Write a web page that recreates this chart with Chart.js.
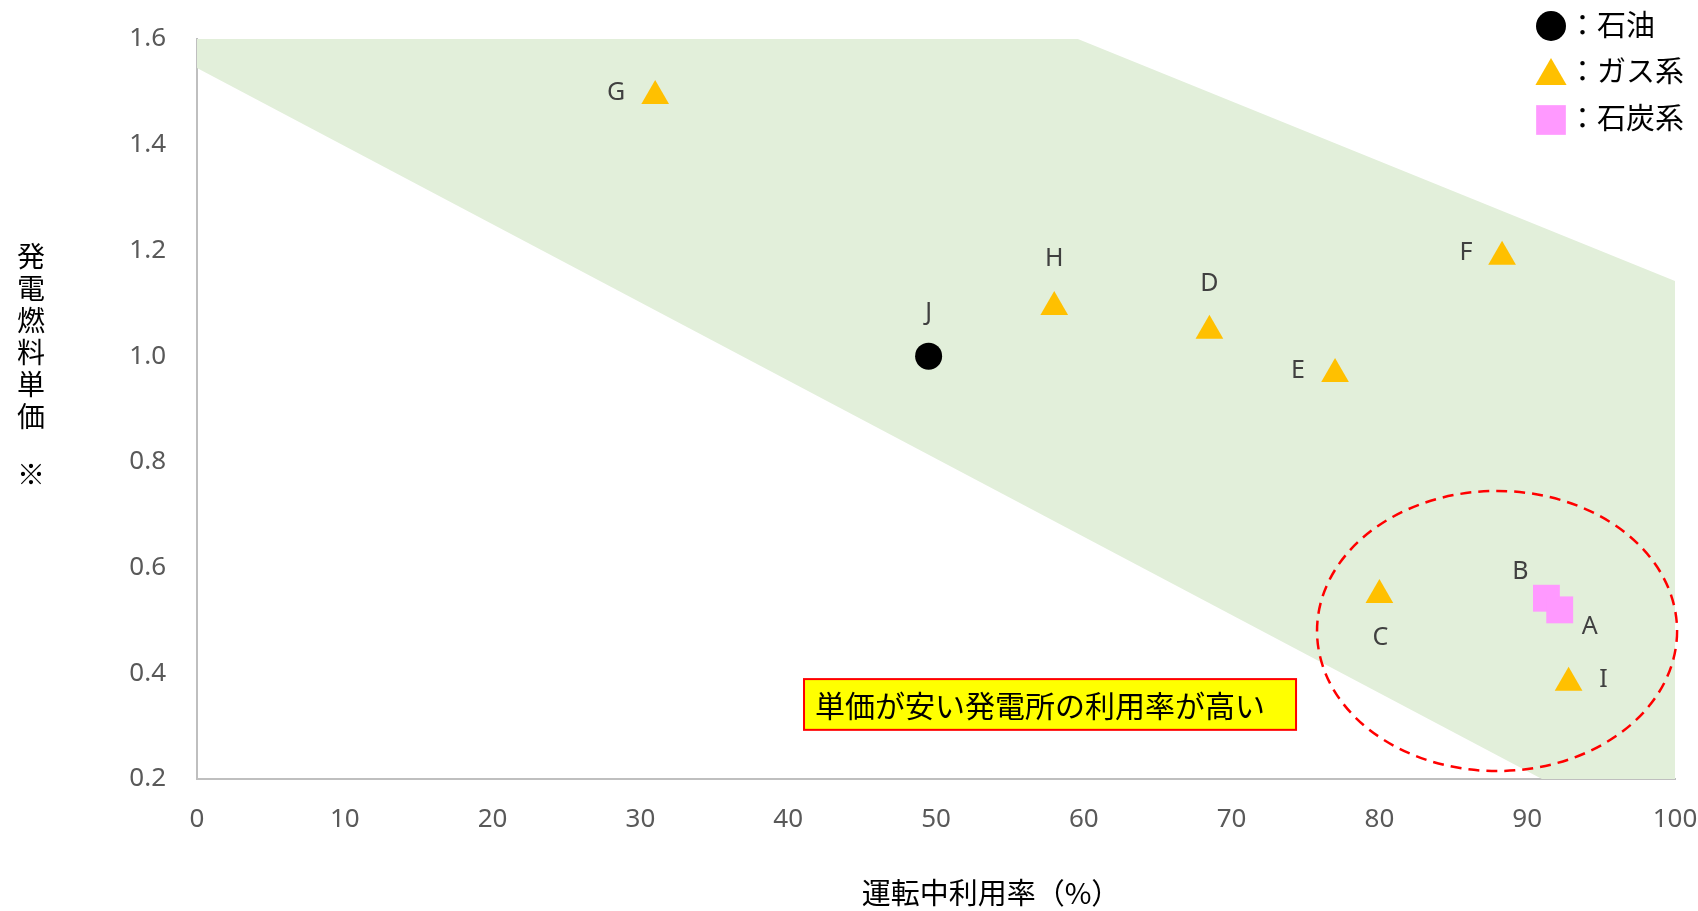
<!DOCTYPE html>
<html>
<head>
<meta charset="utf-8">
<script src="https://cdn.jsdelivr.net/npm/chart.js@4.4.0/dist/chart.umd.min.js"></script>
<style>
  html, body { margin: 0; padding: 0; background: #fff; }
</style>
</head>
<body>
<canvas id="chart" width="1698" height="911"></canvas>
<script>
// series data (x: 運転中利用率 %, y: 発電燃料単価)
const oilNames = ['J'];
const oilX = [49.5];
const oilY = [1.0];

const gasNames = ['C', 'D', 'E', 'F', 'G', 'H', 'I'];
const gasX = [80, 68.5, 77, 88.3, 31, 58, 92.8];
const gasY = [0.548, 1.048, 0.966, 1.188, 1.492, 1.093, 0.382];

const coalNames = ['B', 'A'];
const coalX = [91.3, 92.2];
const coalY = [0.542, 0.52];

// shaded band boundaries
const bandUpperX = [0, 59.6, 100];
const bandUpperY = [1.6, 1.6, 1.142];
const bandLowerX = [0, 91, 100];
const bandLowerY = [1.545, 0.2, 0.2];

const xTicks = [0, 100, 10];
const yTicks = [0.2, 1.6, 0.2];

const legendLabels = ['：石油', '：ガス系', '：石炭系'];
const xTitle = '運転中利用率（%）';
const yTitle = ['発', '電', '燃', '料', '単', '価'];
const noteText = '単価が安い発電所の利用率が高い';

// where each letter sits relative to its marker
const labelOffset = {
  A: [30, 17], B: [-26, -26], C: [1, 43], D: [0, -47], E: [-37, -3],
  F: [-36, -4], G: [-39, -3], H: [0, -48], I: [35, -3], J: [0, -43]
};

const toPts = (xs, ys) => xs.map((v, i) => ({ x: v, y: ys[i] }));

const CJK = '"Noto Sans CJK JP", "Noto Sans", sans-serif';
const LAT = '"Noto Sans", "Open Sans", sans-serif';

const overlay = {
  id: 'overlay',
  afterDatasetsDraw(chart) {
    const { ctx, scales: { x, y } } = chart;
    ctx.save();

    // dashed ellipse round the cheap plants
    const cx = x.getPixelForValue(87.96), cy = y.getPixelForValue(0.48);
    const rx = x.getPixelForValue(87.96 + 12.18) - cx;
    const ry = cy - y.getPixelForValue(0.48 + 0.265);
    ctx.beginPath();
    ctx.setLineDash([11, 7]);
    ctx.strokeStyle = '#FF0000';
    ctx.lineWidth = 2.5;
    ctx.ellipse(cx, cy, rx, ry, 0, 0, Math.PI * 2);
    ctx.stroke();
    ctx.setLineDash([]);

    // note box
    const bx0 = x.getPixelForValue(41.07), bx1 = x.getPixelForValue(74.36);
    const by0 = y.getPixelForValue(0.389), by1 = y.getPixelForValue(0.293);
    ctx.fillStyle = '#FFFF00';
    ctx.fillRect(bx0, by0, bx1 - bx0, by1 - by0);
    ctx.strokeStyle = '#FF0000';
    ctx.lineWidth = 2;
    ctx.strokeRect(bx0, by0, bx1 - bx0, by1 - by0);
    ctx.fillStyle = '#000';
    ctx.font = '30px ' + CJK;
    ctx.textAlign = 'left';
    ctx.textBaseline = 'middle';
    ctx.fillText(noteText, bx0 + 11, (by0 + by1) / 2 + 1);

    // letters next to the markers
    ctx.font = '25px ' + LAT;
    ctx.fillStyle = '#404040';
    ctx.textAlign = 'center';
    chart.data.datasets.forEach((ds, di) => {
      if (!ds.names) return;
      const meta = chart.getDatasetMeta(di);
      meta.data.forEach((pt, i) => {
        const name = ds.names[i];
        const off = labelOffset[name];
        ctx.fillText(name, pt.x + off[0], pt.y + off[1]);
      });
    });
    ctx.restore();
  },
  afterDraw(chart) {
    const { ctx } = chart;
    ctx.save();
    ctx.fillStyle = '#000';
    ctx.textBaseline = 'middle';

    // axis titles
    ctx.font = '29px ' + CJK;
    ctx.textAlign = 'center';
    ctx.fillText(xTitle, 991, 893);
    ctx.font = '28px ' + CJK;
    yTitle.forEach((c, i) => ctx.fillText(c, 31, 256 + i * 32));
    ctx.fillText('※', 31, 474);

    // legend
    const styles = [
      { pointStyle: 'circle', radius: 15, color: '#000000', y: 26, ty: 25 },
      { pointStyle: 'triangle', radius: 18, color: '#FFC000', y: 76, ty: 71 },
      { pointStyle: 'rect', radius: 21, color: '#FF99FF', y: 120, ty: 118 }
    ];
    ctx.font = '29px ' + CJK;
    ctx.textAlign = 'left';
    legendLabels.forEach((t, i) => {
      const s = styles[i];
      ctx.fillStyle = s.color;
      Chart.helpers.drawPoint(ctx, { pointStyle: s.pointStyle, radius: s.radius, rotation: 0, borderWidth: 0 }, 1551, s.y);
      ctx.fillStyle = '#000';
      ctx.fillText(t, 1568, s.ty);
    });
    ctx.restore();
  }
};

new Chart(document.getElementById('chart'), {
  type: 'scatter',
  data: {
    datasets: [
      {
        label: '石油', names: oilNames, data: toPts(oilX, oilY),
        pointStyle: 'circle', pointRadius: 13.5, pointHoverRadius: 13.5,
        backgroundColor: '#000000', pointBorderWidth: 0, borderWidth: 0, order: 0
      },
      {
        label: 'ガス系', names: gasNames, data: toPts(gasX, gasY),
        pointStyle: 'triangle', pointRadius: 16, pointHoverRadius: 16,
        backgroundColor: '#FFC000', pointBorderWidth: 0, borderWidth: 0, order: 0
      },
      {
        label: '石炭系', names: coalNames, data: toPts(coalX, coalY),
        pointStyle: 'rect', pointRadius: 19, pointHoverRadius: 19,
        backgroundColor: '#FF99FF', pointBorderWidth: 0, borderWidth: 0, order: 0
      },
      {
        type: 'line', label: 'band', data: toPts(bandUpperX, bandUpperY),
        fill: '+1', backgroundColor: '#E2EFDA', borderWidth: 0, pointRadius: 0,
        tension: 0, order: 10
      },
      {
        type: 'line', label: 'bandLow', data: toPts(bandLowerX, bandLowerY),
        fill: false, borderWidth: 0, pointRadius: 0, tension: 0, order: 10
      }
    ]
  },
  options: {
    responsive: false,
    animation: false,
    layout: { padding: { top: 39, right: 23, left: 0, bottom: 0 } },
    plugins: {
      legend: { display: false },
      tooltip: { enabled: false }
    },
    scales: {
      x: {
        type: 'linear', min: xTicks[0], max: xTicks[1],
        ticks: { stepSize: xTicks[2], padding: 25, color: '#595959', font: { family: LAT, size: 26 } },
        grid: { display: true, drawOnChartArea: false, drawTicks: false },
        border: { color: '#BFBFBF', width: 2 },
        afterFit(s) { s.height = 132; s.paddingLeft = 0; s.paddingRight = 0; }
      },
      y: {
        type: 'linear', min: yTicks[0], max: yTicks[1],
        ticks: {
          stepSize: yTicks[2], padding: 31, color: '#595959', font: { family: LAT, size: 26 },
          callback: v => v.toFixed(1)
        },
        grid: { display: true, drawOnChartArea: false, drawTicks: false },
        border: { color: '#BFBFBF', width: 2 },
        afterFit(s) { s.width = 197; s.paddingTop = 0; s.paddingBottom = 0; }
      }
    }
  },
  plugins: [overlay]
});
</script>
</body>
</html>
